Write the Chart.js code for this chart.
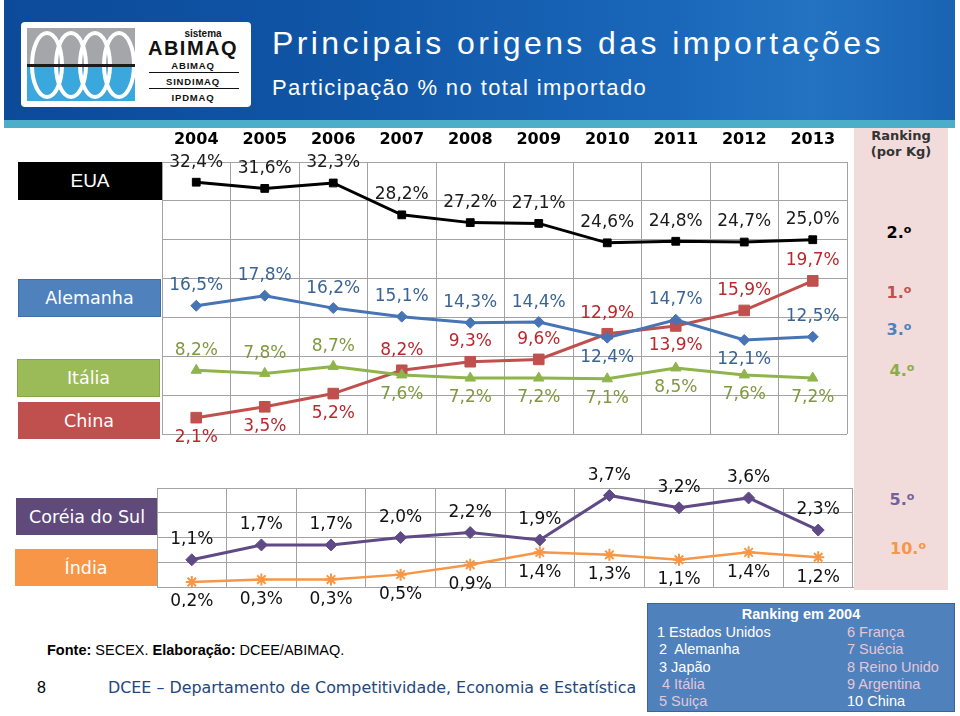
<!DOCTYPE html>
<html lang="pt">
<head>
<meta charset="utf-8">
<title>Principais origens das importações</title>
<script src="https://cdn.jsdelivr.net/npm/chart.js@4.4.1/dist/chart.umd.min.js"></script>
<style>
  body { margin: 0; background: #fff; }
  #slide { position: relative; width: 960px; height: 716px; overflow: hidden; font-family: "Liberation Sans", Arial, sans-serif; }
  .abs { position: absolute; }
  .tag { position: absolute; color: #fff; font-family: "DejaVu Sans", sans-serif; font-size: 17.5px;
         display: flex; align-items: center; justify-content: center; box-sizing: border-box; }
  .rank { position: absolute; width: 94px; text-align: center; font-family: "DejaVu Sans", sans-serif;
          font-weight: bold; font-size: 16px; line-height: 20px; }
  .rank span { font-size: 11px; position: relative; top: -5px; }
  #header { left: 4px; top: 0; width: 951px; height: 120px;
            background: linear-gradient(90deg, #0c4a9a 0%, #1055a6 35%, #1a67ba 70%, #2373c2 85%, #1a63b3 100%); }
  #strip { left: 4px; top: 120px; width: 951px; height: 8px; background: #4caec9; }
  #title { left: 272px; top: 25px; color: #fff; font-size: 32px; letter-spacing: 3.4px; white-space: nowrap; }
  #subtitle { left: 272px; top: 75px; color: #fff; font-size: 22px; letter-spacing: 1.4px; white-space: nowrap; }
  #pink { left: 854px; top: 128px; width: 94px; height: 462px; background: #f2dcdb; }
  #box2004 { left: 647px; top: 603px; width: 308px; height: 109px; background: #4f81bd; border: 1px solid #3b6598;
             box-sizing: border-box; color: #fff; font-size: 14.5px; }
  #box2004 div { position: absolute; white-space: nowrap; }
  .pk { color: #e4c6d4; }
  canvas { position: absolute; }
</style>
</head>
<body>
<div id="slide">
  <div id="header" class="abs"></div>
  <div id="strip" class="abs"></div>

  <svg class="abs" style="left:21px; top:22px" width="230" height="85" viewBox="0 0 230 85">
    <defs><clipPath id="lg"><rect x="6" y="6" width="108" height="73"/></clipPath></defs>
    <rect x="0" y="0" width="230" height="85" rx="4" fill="#fff"/>
    <rect x="6" y="6" width="108" height="37" fill="#a4a6a9"/>
    <rect x="6" y="45" width="108" height="34" fill="#3aa7dd"/>
    <g clip-path="url(#lg)" fill="none" stroke="#fff" stroke-width="4">
      <ellipse cx="26" cy="43" rx="15" ry="32"/>
      <ellipse cx="50" cy="43" rx="15" ry="32"/>
      <ellipse cx="74" cy="43" rx="15" ry="32"/>
      <ellipse cx="98" cy="43" rx="15" ry="32"/>
    </g>
    <rect x="6" y="42" width="108" height="3" fill="#1b1b1b"/>
    <g font-family="Liberation Sans, Arial, sans-serif" font-weight="bold" fill="#111" text-anchor="middle">
      <text x="182" y="15" font-size="10">sistema</text>
      <text x="172" y="33" font-size="20" letter-spacing="1.5">ABIMAQ</text>
      <text x="172" y="47" font-size="9.5" letter-spacing="0.8">ABIMAQ</text>
      <text x="172" y="63" font-size="9.5" letter-spacing="0.8">SINDIMAQ</text>
      <text x="172" y="79" font-size="9.5" letter-spacing="0.8">IPDMAQ</text>
    </g>
    <line x1="128" y1="50.5" x2="218" y2="50.5" stroke="#111" stroke-width="1"/>
    <line x1="128" y1="66.5" x2="218" y2="66.5" stroke="#111" stroke-width="1"/>
  </svg>

  <div id="title" class="abs">Principais origens das importações</div>
  <div id="subtitle" class="abs">Participação % no total importado</div>

  <div id="pink" class="abs"></div>
  <div class="abs" style="left:854px; top:128px; width:94px; text-align:center; font-family:'DejaVu Sans',sans-serif; font-weight:bold; font-size:13px; line-height:16px; color:#333;">Ranking<br>(por Kg)</div>
  <div class="rank" style="left:852px; top:223px; color:#000;">2.<span>o</span></div>
  <div class="rank" style="left:852px; top:283px; color:#c0504d;">1.<span>o</span></div>
  <div class="rank" style="left:852px; top:320px; color:#4f81bd;">3.<span>o</span></div>
  <div class="rank" style="left:855px; top:361px; color:#8bad45;">4.<span>o</span></div>
  <div class="rank" style="left:855px; top:490px; color:#7460a0;">5.<span>o</span></div>
  <div class="rank" style="left:861px; top:539px; color:#f79646;">10.<span>o</span></div>

  <div class="tag" style="left:18px; top:162px; width:144px; height:38px; background:#000; font-family:'Liberation Sans',Arial,sans-serif; font-size:19px;">EUA</div>
  <div class="tag" style="left:18px; top:279px; width:143px; height:38px; background:#4f81bd; border:1px solid #3f6ea8;">Alemanha</div>
  <div class="tag" style="left:17px; top:359px; width:143px; height:38px; background:#9bbb59; border:1px solid #87a64a;">Itália</div>
  <div class="tag" style="left:18px; top:402px; width:142px; height:37px; background:#c0504d;">China</div>
  <div class="tag" style="left:16px; top:498px; width:142px; height:37px; background:#5f4a7b;">Coréia do Sul</div>
  <div class="tag" style="left:15px; top:549px; width:142px; height:37px; background:#f79646;">Índia</div>

  <canvas id="chartTop" width="706" height="322" style="left:152px; top:128px;"></canvas>
  <canvas id="chartBottom" width="717" height="142" style="left:147px; top:465px;"></canvas>

  <div class="abs" style="left:47px; top:642px; font-size:14.5px; color:#000; white-space:nowrap;"><b>Fonte:</b> SECEX. <b>Elaboração:</b> DCEE/ABIMAQ.</div>
  <div class="abs" style="left:37px; top:679px; font-size:16px; color:#000;">8</div>
  <div class="abs" style="left:108px; top:678px; font-family:'DejaVu Sans',sans-serif; font-size:15.9px; color:#24467a; white-space:nowrap;">DCEE – Departamento de Competitividade, Economia e Estatística</div>

  <div id="box2004" class="abs">
    <div style="left:0; width:306px; top:2px; text-align:center; font-weight:bold; font-size:14.5px;">Ranking em 2004</div>
    <div style="left:9px; top:20px;">1 Estados Unidos</div>
    <div style="left:11px; top:37px;">2&nbsp; Alemanha</div>
    <div style="left:11px; top:55px;">3 Japão</div>
    <div class="pk" style="left:14px; top:72px;">4 Itália</div>
    <div class="pk" style="left:11px; top:89px;">5 Suiça</div>
    <div class="pk" style="left:199px; top:20px;">6 França</div>
    <div class="pk" style="left:199px; top:37px;">7 Suécia</div>
    <div class="pk" style="left:199px; top:55px;">8 Reino Unido</div>
    <div class="pk" style="left:199px; top:72px;">9 Argentina</div>
    <div style="left:199px; top:89px;">10 China</div>
  </div>
</div>

<script>
// anos e participação % no total importado
var years = ['2004', '2005', '2006', '2007', '2008', '2009', '2010', '2011', '2012', '2013'];
var eua      = [32.4, 31.6, 32.3, 28.2, 27.2, 27.1, 24.6, 24.8, 24.7, 25.0];
var alemanha = [16.5, 17.8, 16.2, 15.1, 14.3, 14.4, 12.4, 14.7, 12.1, 12.5];
var italia   = [8.2, 7.8, 8.7, 7.6, 7.2, 7.2, 7.1, 8.5, 7.6, 7.2];
var china    = [2.1, 3.5, 5.2, 8.2, 9.3, 9.6, 12.9, 13.9, 15.9, 19.7];
var coreia   = [1.1, 1.7, 1.7, 2.0, 2.2, 1.9, 3.7, 3.2, 3.6, 2.3];
var india    = [0.2, 0.3, 0.3, 0.5, 0.9, 1.4, 1.3, 1.1, 1.4, 1.2];

// posição do rótulo: a = acima, b = abaixo
var posEua      = ['a', 'a', 'a', 'a', 'a', 'a', 'a', 'a', 'a', 'a'];
var posAlemanha = ['a', 'a', 'a', 'a', 'a', 'a', 'b', 'a', 'b', 'a'];
var posItalia   = ['a', 'a', 'a', 'b', 'b', 'b', 'b', 'b', 'b', 'b'];
var posChina    = ['b', 'b', 'b', 'a', 'a', 'a', 'a', 'b', 'a', 'a'];
var posCoreia   = ['a', 'a', 'a', 'a', 'a', 'a', 'a', 'a', 'a', 'a'];
var posIndia    = ['b', 'b', 'b', 'b', 'b', 'b', 'b', 'b', 'b', 'b'];

var GRID = '#a3a3a3';

function fmt(v) {
    return v.toFixed(1).replace('.', ',') + '%';
}

// desenha os valores acima/abaixo de cada ponto
var valueLabels = {
    id: 'valueLabels',
    afterDatasetsDraw: function(chart) {
        var ctx = chart.ctx;
        ctx.save();
        ctx.font = '17px "DejaVu Sans", Verdana, sans-serif';
        ctx.textAlign = 'center';
        ctx.textBaseline = 'middle';
        chart.data.datasets.forEach(function(ds, i) {
            var meta = chart.getDatasetMeta(i);
            ctx.fillStyle = ds.labelColor;
            meta.data.forEach(function(pt, j) {
                var dy = ds.labelPos[j] === 'b' ? 20 : -20;
                ctx.fillText(fmt(ds.data[j]), pt.x, pt.y + dy);
            });
        });
        ctx.restore();
    }
};

function serie(label, data, color, style, radius, labelColor, labelPos, width) {
    return {
        label: label,
        data: data,
        borderColor: color,
        backgroundColor: color,
        borderWidth: width || 3,
        pointStyle: style,
        pointRadius: radius,
        pointBackgroundColor: color,
        pointBorderColor: color,
        pointBorderWidth: style === 'star' ? 2 : 1,
        tension: 0,
        labelColor: labelColor,
        labelPos: labelPos
    };
}

function options(yMax, showYears, pad) {
    return {
        responsive: false,
        animation: false,
        devicePixelRatio: 1,
        layout: { padding: pad },
        plugins: { legend: { display: false }, tooltip: { enabled: false } },
        scales: {
            x: {
                type: 'category',
                position: showYears ? 'top' : 'bottom',
                offset: true,
                grid: { offset: true, color: GRID, drawTicks: false },
                border: { color: GRID },
                ticks: {
                    display: showYears,
                    color: '#000',
                    padding: 13,
                    maxRotation: 0,
                    autoSkip: false,
                    font: { family: '"DejaVu Sans", Verdana, sans-serif', size: 16, weight: 'bold' }
                },
                afterFit: function(s) { s.height = showYears ? 34 : 0; }
            },
            y: {
                min: 0,
                max: yMax,
                grid: { color: GRID, drawTicks: false },
                border: { color: GRID },
                ticks: { display: false, stepSize: showYears ? 5 : 1 },
                afterFit: function(s) { s.width = 0; }
            }
        }
    };
}

new Chart(document.getElementById('chartTop'), {
    type: 'line',
    data: {
        labels: years,
        datasets: [
            serie('EUA', eua, '#000000', 'rect', 5.5, '#1a1a1a', posEua),
            serie('Alemanha', alemanha, '#4674b4', 'rectRot', 5.5, '#3a6496', posAlemanha),
            serie('Itália', italia, '#8fb44c', 'triangle', 6, '#80993f', posItalia),
            serie('China', china, '#c0504d', 'rect', 7.5, '#b8292e', posChina)
        ]
    },
    options: options(35, true, { left: 10, right: 11, top: 0, bottom: 16 }),
    plugins: [valueLabels]
});

new Chart(document.getElementById('chartBottom'), {
    type: 'line',
    data: {
        labels: years,
        datasets: [
            serie('Coréia do Sul', coreia, '#5f4a85', 'rectRot', 6, '#111111', posCoreia),
            serie('Índia', india, '#f79646', 'star', 6, '#111111', posIndia, 2.5)
        ]
    },
    options: options(4, false, { left: 10, right: 11, top: 23, bottom: 20 }),
    plugins: [valueLabels]
});
</script>
</body>
</html>
